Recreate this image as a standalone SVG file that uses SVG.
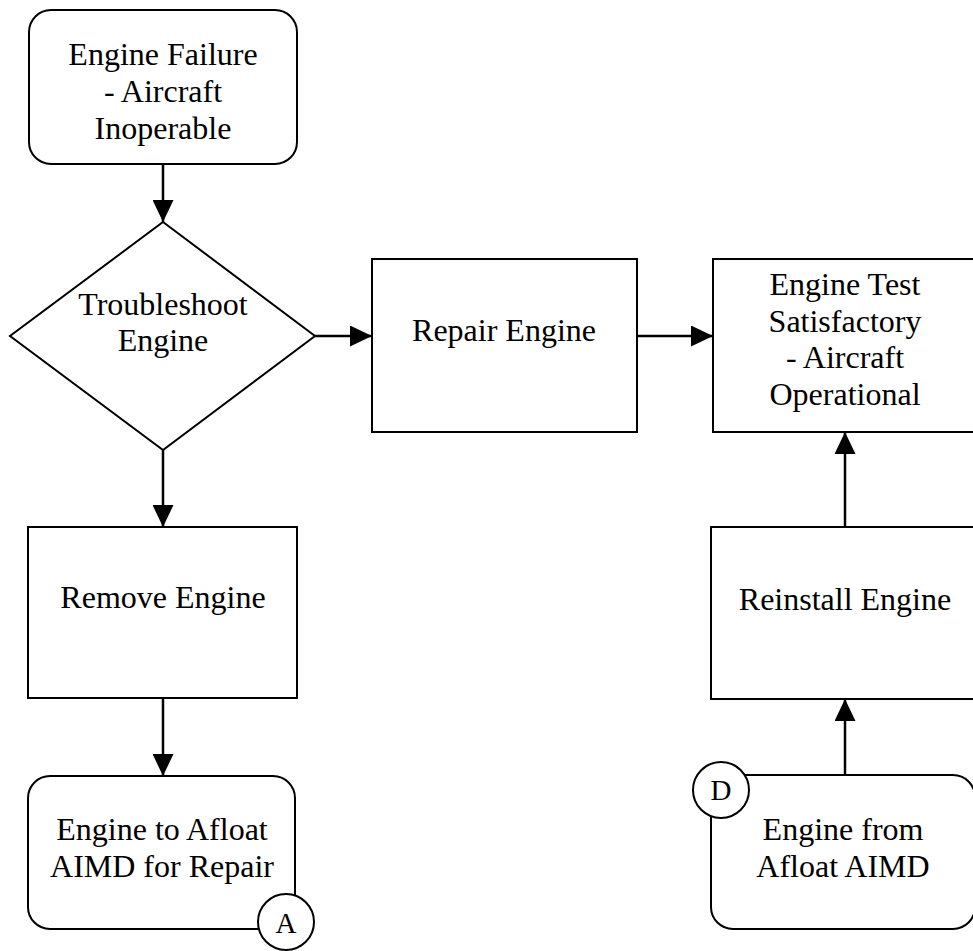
<svg xmlns="http://www.w3.org/2000/svg" width="973" height="951" viewBox="0 0 973 951">
<defs>
<style>
.shape{fill:#fff;stroke:#000;stroke-width:2}
.lbl{font-family:"Liberation Serif","Times New Roman",serif;font-size:32px;fill:#000;text-anchor:middle}
.tag{font-family:"Liberation Serif","Times New Roman",serif;font-size:29px;fill:#000;text-anchor:middle}
.edge{stroke:#000;stroke-width:2.5;fill:none;marker-end:url(#arr)}
</style>
<marker id="arr" markerUnits="userSpaceOnUse" markerWidth="22" markerHeight="21" refX="22" refY="10.5" orient="auto" viewBox="0 0 22 21">
<path d="M0,0 L22,10.5 L0,21 z" fill="#000"/>
</marker>
</defs>
<rect width="973" height="951" fill="#fff"/>
<g id="connectors">
<line class="edge" x1="163" y1="164" x2="163" y2="222"/>
<line class="edge" x1="315" y1="336" x2="372" y2="336"/>
<line class="edge" x1="637" y1="336" x2="713" y2="336"/>
<line class="edge" x1="163" y1="450" x2="163" y2="527"/>
<line class="edge" x1="163" y1="698" x2="163" y2="776"/>
<line class="edge" x1="845" y1="527" x2="845" y2="432"/>
<line class="edge" x1="845" y1="775" x2="845" y2="699"/>
</g>
<g id="engine-failure">
<rect class="shape" x="29" y="10" width="268" height="154" rx="22"/>
<text class="lbl" x="163" y="65">Engine Failure</text>
<text class="lbl" x="163" y="102">- Aircraft</text>
<text class="lbl" x="163" y="139">Inoperable</text>
</g>
<g id="troubleshoot">
<polygon class="shape" points="163,222 315,336 163,450 10,336"/>
<text class="lbl" x="163" y="315">Troubleshoot</text>
<text class="lbl" x="163" y="351">Engine</text>
</g>
<g id="repair">
<rect class="shape" x="372" y="259" width="265" height="173"/>
<text class="lbl" x="504" y="341">Repair Engine</text>
</g>
<g id="engine-test">
<rect class="shape" x="713" y="259" width="265" height="173"/>
<text class="lbl" x="845" y="295">Engine Test</text>
<text class="lbl" x="845" y="332">Satisfactory</text>
<text class="lbl" x="845" y="368">- Aircraft</text>
<text class="lbl" x="845" y="405">Operational</text>
</g>
<g id="remove">
<rect class="shape" x="28" y="527" width="269" height="171"/>
<text class="lbl" x="163" y="608">Remove Engine</text>
</g>
<g id="reinstall">
<rect class="shape" x="711" y="527" width="267" height="172"/>
<text class="lbl" x="845" y="610">Reinstall Engine</text>
</g>
<g id="to-aimd">
<rect class="shape" x="28" y="776" width="267" height="153" rx="22"/>
<text class="lbl" x="162" y="840">Engine to Afloat</text>
<text class="lbl" x="162" y="877">AIMD for Repair</text>
<circle class="shape" cx="286" cy="922" r="28"/>
<text class="tag" x="286" y="933">A</text>
</g>
<g id="from-aimd">
<rect class="shape" x="711" y="775" width="264" height="154" rx="22"/>
<circle class="shape" cx="721" cy="790" r="28"/>
<text class="tag" x="721" y="800">D</text>
<text class="lbl" x="843" y="840">Engine from</text>
<text class="lbl" x="843" y="877">Afloat AIMD</text>
</g>
</svg>
